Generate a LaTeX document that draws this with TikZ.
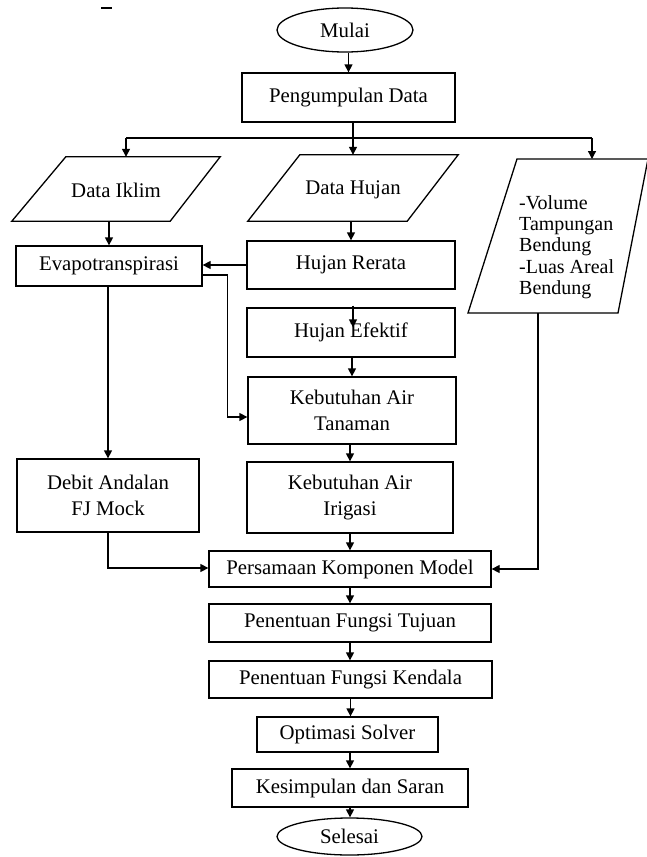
\documentclass[tikz,border=0pt]{standalone}
\usepackage{fontspec}
\setmainfont{Liberation Serif}
\usetikzlibrary{shapes.geometric,calc,arrows.meta}
\begin{document}
\begin{tikzpicture}[x=1pt,y=-1pt,
  txt/.style={font=\fontsize{20.8}{25.5}\selectfont},
  box/.style={txt, draw, line width=1.3pt, fill=white, inner sep=0pt, align=center},
  term/.style={txt, ellipse, draw, line width=1.3pt, fill=white, inner sep=0pt},
  para/.style={txt, inner sep=0pt, align=center},
  ln/.style={line width=1.3pt},
  arr/.style={line width=1.3pt, -{Triangle[length=8pt,width=8pt]}}]
\useasboundingbox (0,0) rectangle (647,857);
\fill[white] (0,0) rectangle (647,857);

% stray mark
\draw[line width=1.6pt] (101,8) -- (112,8);

% terminals and boxes
\node[term, minimum width=136pt, minimum height=44pt] (mulai) at (345,30) {Mulai};
\node[box, minimum width=213pt, minimum height=49pt] (pengumpulan) at (348.5,97.5) {Pengumpulan Data};

% parallelograms
\node[para, minimum width=208pt, minimum height=64pt] (iklim) at (116,190) {Data Iklim};
\draw[ln] ($(iklim.north west)+(54,-1)$) -- ($(iklim.north east)+(0,-1)$) -- ($(iklim.south east)+(-50,-1)$) -- ($(iklim.south west)+(0,-1)$) -- cycle;
\node[para, minimum width=210pt, minimum height=66pt] (hujan) at (353,190) {Data Hujan};
\draw[ln] ($(hujan.north west)+(52,-2)$) -- ($(hujan.north east)+(0,-2)$) -- ($(hujan.south east)+(-51,-2)$) -- ($(hujan.south west)+(0,-2)$) -- cycle;

\coordinate (vtl) at (517,159);
\coordinate (vtr) at (648,159);
\coordinate (vbr) at (618,313);
\coordinate (vbl) at (468,313);
\draw[ln] (vtl) -- (vtr) -- (vbr) -- (vbl) -- cycle;
\node[txt, font=\fontsize{20}{21.3}\selectfont, align=left, inner sep=0pt, anchor=west] (volume) at (519,247)
  {-Volume\\Tampungan\\Bendung\\-Luas Areal\\Bendung};
\coordinate (vtop) at (592,159);
\coordinate (vbot) at (538,313);

\node[box, minimum width=186pt, minimum height=40pt] (evap) at (109,266) {Evapotranspirasi};
\node[box, minimum width=208pt, minimum height=48pt] (rerata) at (351,265) {Hujan Rerata};
\node[box, minimum width=208pt, minimum height=49pt] (efektif) at (351,332.5) {Hujan Efektif};
\node[box, minimum width=208pt, minimum height=67pt] (tanaman) at (352,410.5) {Kebutuhan Air\\Tanaman};
\node[box, minimum width=206pt, minimum height=71pt] (irigasi) at (350,497.5) {Kebutuhan Air\\Irigasi};
\node[box, minimum width=182pt, minimum height=73pt] (debit) at (108,495.5) {Debit Andalan\\FJ Mock};
\node[box, minimum width=282pt, minimum height=36pt] (persamaan) at (350,569) {Persamaan Komponen Model};
\node[box, minimum width=282pt, minimum height=38pt] (tujuan) at (350,623) {Penentuan Fungsi Tujuan};
\node[box, minimum width=283pt, minimum height=37pt] (kendala) at (350.5,679.5) {Penentuan Fungsi Kendala};
\node[box, minimum width=181pt, minimum height=35pt] (solver) at (347.5,734.5) {Optimasi Solver};
\node[box, minimum width=236pt, minimum height=38pt] (kesimpulan) at (350,788) {Kesimpulan dan Saran};
\node[term, minimum width=145pt, minimum height=37pt] (selesai) at (349.5,836.5) {Selesai};

% connectors
\draw[arr] (pengumpulan.north |- mulai.south) -- (pengumpulan.north);
\coordinate (busL) at (126,138);
\coordinate (busR) at (592,138);
\draw[ln] (busL) -- (busR);
\draw[arr] (busL) -- ($(busL |- iklim.north)+(0,-1)$);
\draw[arr] (busR) -- (vtop);
\draw[arr] (hujan.north |- pengumpulan.south) -- ($(hujan.north)+(0,-2)$);
\draw[arr] ($(evap.north |- iklim.south)+(0,-1)$) -- (evap.north);
\draw[arr] ($(rerata.north |- hujan.south)+(0,-2)$) -- (rerata.north);
\draw[arr] (rerata.west) -- (rerata.west -| evap.east);
\draw[arr] ($(evap.east)+(0,9)$) -| ($(tanaman.west)+(-20,6.5)$) -- ($(tanaman.west)+(0,6.5)$);
\draw[arr] ($(rerata.south)+(2,16)$) -- ($(efektif.north)+(2,20)$);
\draw[arr] (tanaman.north |- efektif.south) -- (tanaman.north);
\draw[arr] (irigasi.north |- tanaman.south) -- (irigasi.north);
\draw[arr] (debit.north |- evap.south) -- (debit.north);
\draw[arr] (persamaan.north |- irigasi.south) -- (persamaan.north);
\draw[arr] (debit.south) |- ($(persamaan.west)+(0,-1)$);
\draw[arr] (vbot) |- (persamaan.east);
\draw[arr] (persamaan.south) -- (persamaan.south |- tujuan.north);
\draw[arr] (tujuan.south) -- (tujuan.south |- kendala.north);
\draw[arr] (kendala.south) -- (kendala.south |- solver.north);
\draw[arr] (kesimpulan.north |- solver.south) -- (kesimpulan.north);
\draw[arr] (kesimpulan.south) -- (kesimpulan.south |- selesai.north);
\end{tikzpicture}
\end{document}
